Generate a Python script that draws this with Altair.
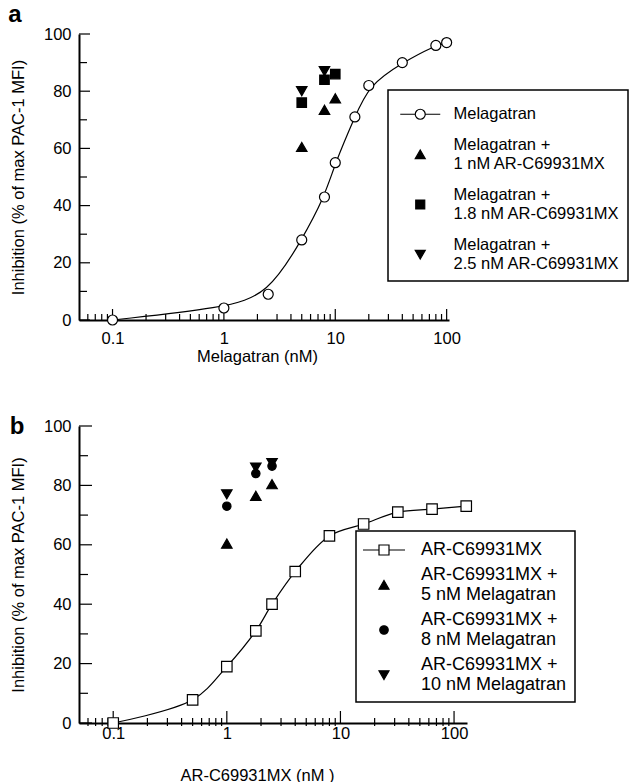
import altair as alt
import pandas as pd

FONT = "Liberation Sans"

# ---------------- Panel a data ----------------
a_series = [
    "Melagatran",
    "Melagatran +\n1 nM AR-C69931MX",
    "Melagatran +\n1.8 nM AR-C69931MX",
    "Melagatran +\n2.5 nM AR-C69931MX",
]
a_mel_x = [0.1, 1, 2.5, 5, 8, 10, 15, 20, 40, 80, 100]
a_mel_y = [0, 4.2, 9, 28, 43, 55, 71, 82, 90, 96, 97]
a_ar1_x = [5, 8, 10]
a_ar1_y = [60.5, 73.5, 77.5]
a_ar18_x = [5, 8, 10]
a_ar18_y = [76, 84, 86]
a_ar25_x = [5, 8]
a_ar25_y = [80, 87]

# ---------------- Panel b data ----------------
b_series = [
    "AR-C69931MX",
    "AR-C69931MX +\n5 nM Melagatran",
    "AR-C69931MX +\n8 nM Melagatran",
    "AR-C69931MX +\n10 nM Melagatran",
]
b_ar_x = [0.1, 0.5, 1, 1.8, 2.5, 4, 8, 16, 32, 64, 128]
b_ar_y = [0, 7.8, 19, 31, 40, 51, 63, 67, 71, 72, 73]
b_m5_x = [1, 1.8, 2.5]
b_m5_y = [60.4, 76.5, 80.4]
b_m8_x = [1, 1.8, 2.5]
b_m8_y = [73, 84, 86.5]
b_m10_x = [1, 1.8, 2.5]
b_m10_y = [77, 86, 87.5]

# ---------------- axis ticks ----------------
x_major = [0.1, 1, 10, 100]
x_minor = [m * 10 ** e for e in (-2, -1, 0, 1) for m in range(2, 10) if 0.05 < m * 10 ** e < 100]
y_major = [0, 20, 40, 60, 80, 100]
y_minor = [10, 30, 50, 70, 90]


# legend symbol paths (unit box; s = downward shift so symbol sits between two label lines)
def p_line_circle():
    return "M-4,0H-1M1,0H4M-1,0A1,1,0,1,1,1,0A1,1,0,1,1,-1,0Z"


def p_line_square():
    return "M-4.2,0H-1M1,0H4.2M-1,-1H1V1H-1Z"


def p_tri_up(s):
    return f"M0,{-0.9 + s:.3f}L1,{0.83 + s:.3f}L-1,{0.83 + s:.3f}Z"


def p_tri_down(s):
    return f"M0,{0.9 + s:.3f}L1,{-0.83 + s:.3f}L-1,{-0.83 + s:.3f}Z"


def p_square(s):
    return f"M-0.9,{-0.9 + s:.3f}H0.9V{0.9 + s:.3f}H-0.9Z"


def p_circle(s):
    return f"M-0.85,{s:.3f}A0.85,0.85,0,1,1,0.85,{s:.3f}A0.85,0.85,0,1,1,-0.85,{s:.3f}Z"


def frame(series, groups):
    rows = []
    for name, (xs, ys) in zip(series, groups):
        for xv, yv in zip(xs, ys):
            rows.append({"x": xv, "y": yv, "series": name})
    return pd.DataFrame(rows)


def panel(series, groups, width, height, xmax, plot_shapes, plot_sizes,
          legend_shapes, legend_x, legend_y, xtitle, title_x, title_y,
          label_pad_x, letter, letter_x, letter_y, tick_spec, leg_font,
          leg_row_pad, leg_sym_off, leg_lab_off, leg_pad, leg_top, interp):
    df = frame(series, groups)
    fills = ["white", "black", "black", "black"]

    x_scale = alt.Scale(type="log", domain=[0.05, xmax], nice=False)
    y_scale = alt.Scale(domain=[0, 100], nice=False)
    x_axis = alt.Axis(values=x_major, format="~g", ticks=False, tickSize=0,
                      labelPadding=label_pad_x, labelFlush=False, labelOverlap=False,
                      grid=False, title=xtitle, titleX=title_x, titleY=title_y,
                      titleAlign="center", titleBaseline="middle")
    y_axis = alt.Axis(values=y_major, ticks=False, tickSize=0, labelPadding=8,
                      grid=False, title="Inhibition (% of max PAC-1 MFI)",
                      titleX=-61, titleY=height / 2, titleAlign="center",
                      titleBaseline="middle")
    X = alt.X("x:Q", scale=x_scale, axis=x_axis)
    Y = alt.Y("y:Q", scale=y_scale, axis=y_axis)

    curve = alt.Chart(df[df.series == series[0]]).mark_line(
        color="black", strokeWidth=1.2, interpolate=interp
    ).encode(x=X, y=Y)

    pts = alt.Chart(df).mark_point(
        filled=True, stroke="black", strokeWidth=1.2, opacity=1
    ).encode(
        x=X, y=Y,
        shape=alt.Shape("series:N", scale=alt.Scale(domain=series, range=plot_shapes), legend=None),
        fill=alt.Fill("series:N", scale=alt.Scale(domain=series, range=fills), legend=None),
        size=alt.Size("series:N", scale=alt.Scale(type="ordinal", domain=series, range=plot_sizes), legend=None),
    )

    leg = alt.Legend(
        title=" ", titleFontSize=1, titlePadding=leg_top,
        orient="none", legendX=legend_x, legendY=legend_y,
        strokeColor="black", padding=leg_pad, rowPadding=leg_row_pad,
        labelFontSize=leg_font, labelFont=FONT, labelColor="black", labelLimit=400,
        symbolSize=100, symbolStrokeColor="black", symbolStrokeWidth=1.2,
        symbolOpacity=1, symbolOffset=leg_sym_off, labelOffset=leg_lab_off,
        labelExpr="split(datum.label, '\\n')",
    )
    legdf = pd.DataFrame({"series": series})
    legend_layer = alt.Chart(legdf).mark_point(
        filled=True, strokeWidth=1.2, size=100, opacity=0
    ).encode(
        shape=alt.Shape("series:N", scale=alt.Scale(domain=series, range=legend_shapes), legend=leg),
        fill=alt.Fill("series:N", scale=alt.Scale(domain=series, range=fills), legend=leg),
        stroke=alt.Stroke("series:N", scale=alt.Scale(domain=series, range=["black"] * 4), legend=leg),
    )

    # axis ticks drawn as rules (inward / crossing)
    (maj_up, maj_dn, min_up, min_dn, ymaj, ymin) = tick_spec
    xt_major = alt.Chart(pd.DataFrame({"x": x_major})).mark_rule(color="black", strokeWidth=1.2).encode(
        x=X, y=alt.value(height + maj_dn), y2=alt.value(height - maj_up))
    xt_minor = alt.Chart(pd.DataFrame({"x": x_minor})).mark_rule(color="black", strokeWidth=1.2).encode(
        x=X, y=alt.value(height + min_dn), y2=alt.value(height - min_up))
    yt_major = alt.Chart(pd.DataFrame({"y": y_major})).mark_rule(color="black", strokeWidth=1.2).encode(
        y=Y, x=alt.value(0), x2=alt.value(ymaj))
    yt_minor = alt.Chart(pd.DataFrame({"y": y_minor})).mark_rule(color="black", strokeWidth=1.2).encode(
        y=Y, x=alt.value(0), x2=alt.value(ymin))

    letter_layer = alt.Chart(pd.DataFrame({"t": [letter]})).mark_text(
        font=FONT, fontSize=24, fontWeight="bold", align="center", baseline="alphabetic", color="black"
    ).encode(text="t:N", x=alt.value(letter_x), y=alt.value(letter_y))

    return alt.layer(
        xt_major, xt_minor, yt_major, yt_minor, curve, pts, legend_layer, letter_layer
    ).resolve_scale(shape="independent", fill="independent", size="independent",
                    stroke="independent").properties(width=width, height=height)


SA = 1.85   # half a label line (panel a), in symbol units
SB = 2.0    # half a label line (panel b)

panel_a = panel(
    a_series,
    [(a_mel_x, a_mel_y), (a_ar1_x, a_ar1_y), (a_ar18_x, a_ar18_y), (a_ar25_x, a_ar25_y)],
    width=370, height=286, xmax=105,
    plot_shapes=["circle", "triangle-up", "square", "triangle-down"],
    plot_sizes=[100, 110, 90, 110],
    legend_shapes=[p_line_circle(), p_tri_up(SA), p_square(SA), p_tri_down(SA)],
    legend_x=309, legend_y=56,
    xtitle="Melagatran (nM)", title_x=178, title_y=36, label_pad_x=10,
    letter="a", letter_x=-64, letter_y=-12,
    tick_spec=(11, 0, 6, 0, 11, 8),
    leg_font=16.5, leg_row_pad=14, leg_sym_off=16, leg_lab_off=25, leg_pad=8, leg_top=7,
    interp="basis",
)

panel_b = panel(
    b_series,
    [(b_ar_x, b_ar_y), (b_m5_x, b_m5_y), (b_m8_x, b_m8_y), (b_m10_x, b_m10_y)],
    width=388, height=297, xmax=130,
    plot_shapes=["square", "triangle-up", "circle", "triangle-down"],
    plot_sizes=[110, 110, 70, 110],
    legend_shapes=[p_line_square(), p_tri_up(SB), p_circle(SB), p_tri_down(SB)],
    legend_x=277, legend_y=105,
    xtitle="AR-C69931MX (nM )", title_x=178, title_y=52, label_pad_x=2,
    letter="b", letter_x=-62, letter_y=8,
    tick_spec=(12, 1, 5, 3, 13, 9),
    leg_font=18, leg_row_pad=7, leg_sym_off=11, leg_lab_off=28, leg_pad=8, leg_top=1,
    interp="catmull-rom",
)

chart = alt.vconcat(panel_a, panel_b, spacing=50).properties(
    padding={"left": 8, "top": 3, "right": 0, "bottom": 0}
).configure_view(strokeWidth=0).configure_axis(
    labelFont=FONT, titleFont=FONT, labelFontSize=16.5, titleFontSize=16.5,
    labelColor="black", titleColor="black", domainColor="black", domainWidth=2,
    titleFontWeight="normal",
).configure_legend(strokeWidth=1.5)

chart.save("out.html", embed_options={"renderer": "svg", "actions": False})
